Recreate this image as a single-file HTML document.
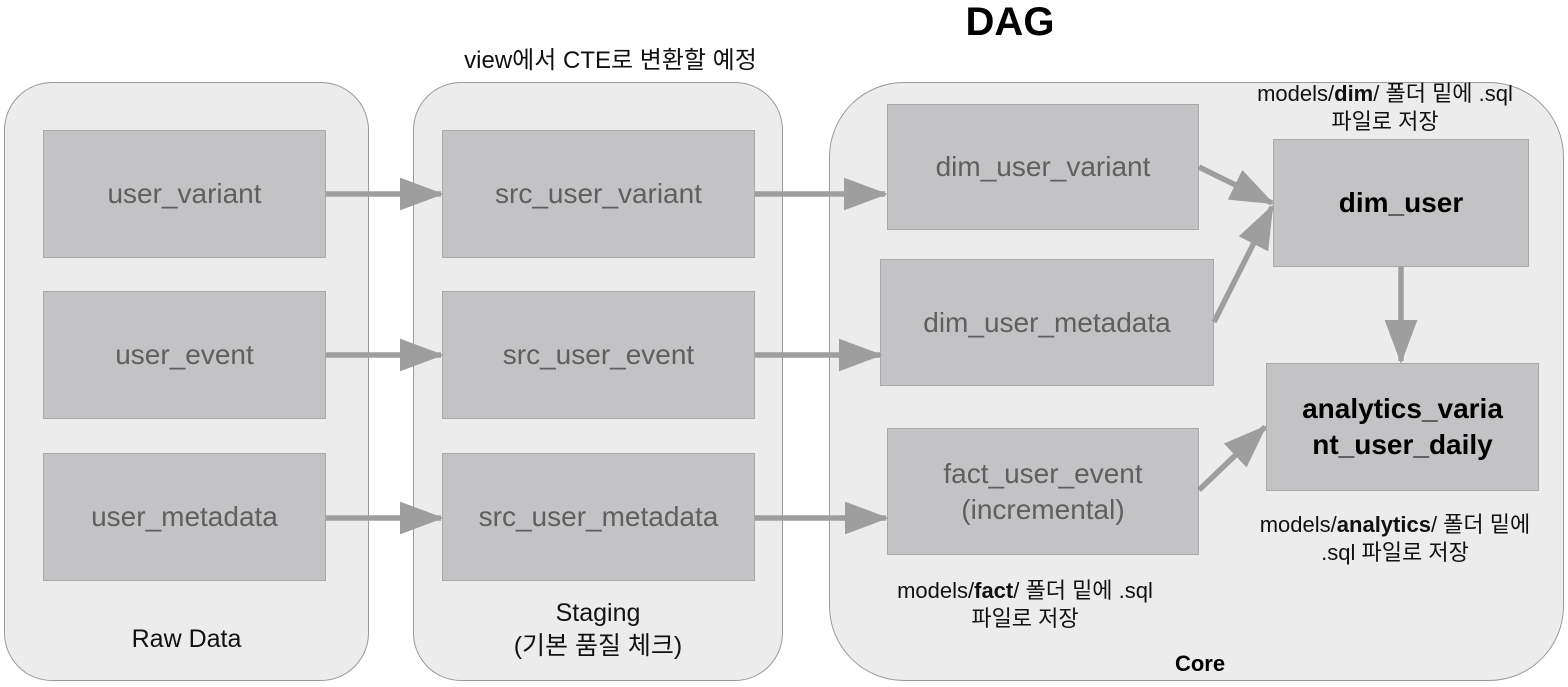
<!DOCTYPE html>
<html><head><meta charset="utf-8"><style>
body{margin:0;width:1568px;height:687px;background:#fff;position:relative;overflow:hidden;font-family:"Liberation Sans","Noto Sans CJK KR",sans-serif}
.c{position:absolute;background:#ececec;border:1.5px solid #9a9a9a;box-sizing:border-box}
.b{position:absolute;background:#c3c2c4;border:1.5px solid #a9a9a9;box-sizing:border-box;display:flex;align-items:center;justify-content:center;text-align:center;color:#5f5f5f;font-size:28px;line-height:36px}
.bold{font-weight:bold;color:#000}
.t{position:absolute;text-align:center;color:#111;font-size:22px;line-height:28px;white-space:nowrap}
</style></head><body>
<div class="c" style="left:4px;top:82px;width:365px;height:599px;border-radius:48px"></div>
<div class="c" style="left:413px;top:82px;width:370px;height:599px;border-radius:48px"></div>
<div class="c" style="left:829px;top:82px;width:735px;height:599px;border-radius:75px"></div>

<div class="t" style="left:910px;top:0;width:200px;font-size:40px;line-height:44px;font-weight:bold;color:#000">DAG</div>
<div class="t" style="left:413px;top:47px;width:395px;font-size:24px">view에서 CTE로 변환할 예정</div>
<div class="t" style="left:1200px;top:80px;width:370px">models/<b>dim</b>/ 폴더 밑에 .sql<br>파일로 저장</div>
<div class="t" style="left:1220px;top:511px;width:350px">models/<b>analytics</b>/ 폴더 밑에<br>.sql 파일로 저장</div>
<div class="t" style="left:840px;top:577px;width:370px">models/<b>fact</b>/ 폴더 밑에 .sql<br>파일로 저장</div>
<div class="t" style="left:4px;top:625px;width:365px;font-size:25px">Raw Data</div>
<div class="t" style="left:413px;top:597px;width:370px;font-size:25px;line-height:33px">Staging<br>(기본 품질 체크)</div>
<div class="t" style="left:1100px;top:650px;width:200px;font-weight:bold;color:#000">Core</div>

<div class="b" style="left:43px;top:130px;width:283px;height:128px">user_variant</div>
<div class="b" style="left:43px;top:291px;width:283px;height:128px">user_event</div>
<div class="b" style="left:43px;top:453px;width:283px;height:128px">user_metadata</div>
<div class="b" style="left:442px;top:130px;width:313px;height:128px">src_user_variant</div>
<div class="b" style="left:442px;top:291px;width:313px;height:128px">src_user_event</div>
<div class="b" style="left:442px;top:453px;width:313px;height:128px">src_user_metadata</div>
<div class="b" style="left:887px;top:104px;width:312px;height:126px">dim_user_variant</div>
<div class="b" style="left:880px;top:259px;width:334px;height:127px">dim_user_metadata</div>
<div class="b" style="left:887px;top:428px;width:312px;height:127px">fact_user_event<br>(incremental)</div>
<div class="b bold" style="left:1273px;top:139px;width:256px;height:128px">dim_user</div>
<div class="b bold" style="left:1266px;top:363px;width:273px;height:128px">analytics_varia<br>nt_user_daily</div>

<svg width="1568" height="687" style="position:absolute;left:0;top:0">
<defs><marker id="a" markerWidth="8" markerHeight="6" refX="7.5" refY="3" orient="auto" markerUnits="strokeWidth"><path d="M0,0 L8,3 L0,6z" fill="#9e9e9e"/></marker></defs>
<g stroke="#9e9e9e" stroke-width="5.5" fill="none" marker-end="url(#a)">
<line x1="326" y1="194" x2="441" y2="194"/>
<line x1="326" y1="355" x2="441" y2="355"/>
<line x1="326" y1="518" x2="441" y2="518"/>
<line x1="755" y1="194" x2="885" y2="194"/>
<line x1="755" y1="355" x2="880" y2="355"/>
<line x1="755" y1="518" x2="886" y2="518"/>
<line x1="1199" y1="167" x2="1272" y2="203"/>
<line x1="1214" y1="322" x2="1272" y2="207"/>
<line x1="1401" y1="267" x2="1401" y2="361"/>
<line x1="1199" y1="490" x2="1265" y2="427"/>
</g></svg>
</body></html>
